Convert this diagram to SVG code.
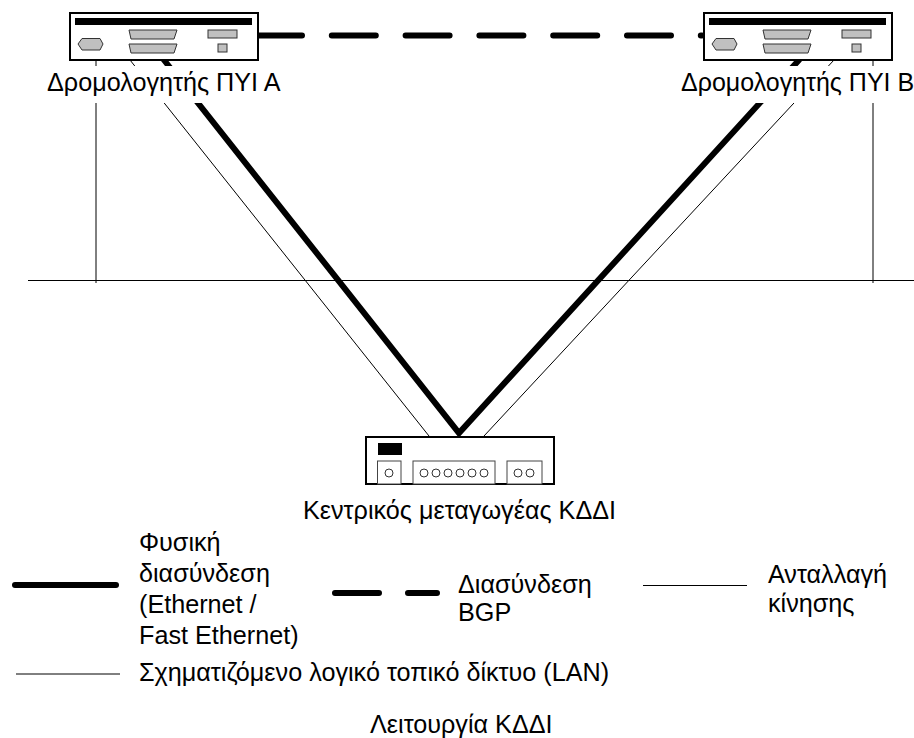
<svg xmlns="http://www.w3.org/2000/svg" width="914" height="738" viewBox="0 0 914 738">
<style>
text{font-family:"Liberation Sans",Arial,sans-serif;font-size:25.2px;fill:#000}
.box{fill:#fff;stroke:#000;stroke-width:2}
.bar{fill:#000}
.g{fill:#c0c0c0;stroke:#333;stroke-width:1}
.port{fill:#fff;stroke:#444;stroke-width:1}
.c{fill:#fff;stroke:#333;stroke-width:1}
.thin{fill:none;stroke:#000;stroke-width:1}
.thick{fill:none;stroke:#000;stroke-width:6;stroke-linecap:round}
.mask{fill:#fff}
</style>
<defs>
<g id="router">
<rect class="box" x="70" y="13" width="188" height="47"/>
<rect class="bar" x="75" y="18" width="177" height="7"/>
<polygon class="g" points="82,38.500 100,38.500 103,44 100,50 82,50 78,44"/>
<polygon class="g" points="129,30 177,30 174,39 131,39"/>
<polygon class="g" points="129,44 177,44 174,53 131,53"/>
<rect class="g" x="208" y="30" width="29" height="8"/>
<rect class="g" x="218" y="44" width="9" height="8"/>
</g>
</defs>
<g id="connectors">
<path class="thin" d="M96 60V283M873 60V283M28 280.500H914"/>
<path class="thin" d="M130 60L429 436M834 60L484 436"/>
<path class="thick" d="M164 60L459 433L799 60" stroke-linecap="butt" stroke-linejoin="miter"/>
<path class="thick" d="M258 35.500H702" stroke-dasharray="44 29.800"/>
<rect class="mask" x="47" y="66" width="234" height="37"/>
<rect class="mask" x="681" y="66" width="233" height="37"/>
</g>
<g id="router-a"><use href="#router"/><text x="47" y="91">Δρομολογητής ΠΥΙ Α</text></g>
<g id="router-b"><use href="#router" x="634"/><text x="681" y="91" style="font-size:25px">Δρομολογητής ΠΥΙ Β</text></g>
<g id="switch">
<rect class="box" x="366" y="437" width="188" height="47"/>
<rect class="bar" x="378" y="443" width="24" height="12"/>
<rect class="port" x="377.500" y="461" width="23.500" height="23"/>
<rect class="port" x="413" y="461" width="82" height="23"/>
<rect class="port" x="507" y="461" width="35" height="23"/>
<circle class="c" cx="389" cy="473" r="4"/>
<circle class="c" cx="424" cy="473" r="4"/><circle class="c" cx="436" cy="473" r="4"/><circle class="c" cx="448" cy="473" r="4"/><circle class="c" cx="460" cy="473" r="4"/><circle class="c" cx="472" cy="473" r="4"/><circle class="c" cx="484" cy="473" r="4"/>
<circle class="c" cx="518" cy="473" r="4"/><circle class="c" cx="530" cy="473" r="4"/>
<text x="303" y="519">Κεντρικός μεταγωγέας ΚΔΔΙ</text>
</g>
<g id="legend-physical"><path class="thick" d="M15 585H116"/>
<text x="139" y="551">Φυσική</text><text x="139" y="582">διασύνδεση</text><text x="139" y="613">(Ethernet /</text><text x="139" y="644">Fast Ethernet)</text></g>
<g id="legend-bgp"><path class="thick" d="M335 593H379M408 593H437"/><text x="458" y="593">Διασύνδεση</text><text x="458" y="621">BGP</text></g>
<g id="legend-traffic"><path class="thin" d="M643 585.500H747"/><text x="768" y="583">Ανταλλαγή</text><text x="768" y="612">κίνησης</text></g>
<g id="legend-lan"><path class="thin" d="M16 674H120"/><text x="139" y="681">Σχηματιζόμενο λογικό τοπικό δίκτυο (LAN)</text></g>
<text id="caption" x="370" y="733">Λειτουργία ΚΔΔΙ</text>
</svg>
